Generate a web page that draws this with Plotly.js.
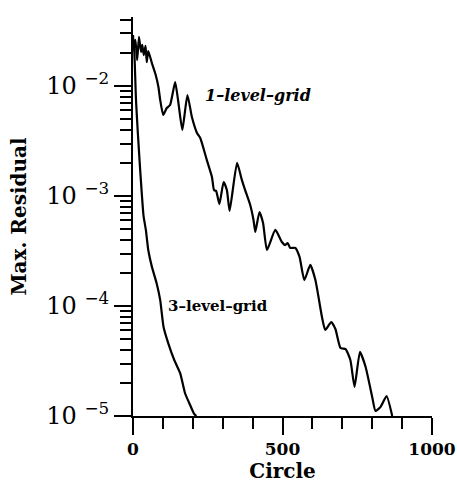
<!DOCTYPE html>
<html>
<head>
<meta charset="utf-8">
<script src="https://cdn.plot.ly/plotly-3.0.1.min.js"></script>
<style>html,body{margin:0;padding:0;background:#fff;}#chart{width:457px;height:485px;}</style>
</head>
<body>
<div id="chart"></div>
<script>
// 1-level-grid series
const circle1 = [0,3,8,14,20,27,31,36,42,46,51,63,76,85,91,101,113,124,141,152,165,182,197,214,225,247,264,271,278,289,303,314,323,348,364,375,392,403,409,423,435,448,476,498,509,517,526,543,557,573,593,610,632,643,663,677,694,711,727,741,759,778,800,811,828,848,867];
const resid1 = [0.0291,0.0222,0.0262,0.0172,0.0279,0.0204,0.0236,0.0191,0.0231,0.0165,0.0208,0.0162,0.0126,0.0098,0.00746,0.00545,0.00631,0.00671,0.01087,0.0070,0.00398,0.00828,0.00522,0.00374,0.00337,0.00212,0.00149,0.00113,0.00111,0.000845,0.00134,0.00113,0.000731,0.00200,0.0014,0.00113,0.000828,0.000605,0.000471,0.000715,0.000568,0.000323,0.000491,0.000382,0.000358,0.000374,0.000337,0.000337,0.000279,0.000172,0.000236,0.000172,0.0000794,0.0000605,0.0000715,0.0000618,0.0000415,0.0000406,0.0000323,0.0000184,0.0000382,0.0000279,0.0000149,0.0000111,0.0000121,0.0000152,0.0000100];
// 3-level-grid series
const circle3 = [0,4,10,16,24,35,43,51,63,79,91,102,118,138,158,174,191,205,212];
const resid3 = [0.0251,0.0212,0.00746,0.00382,0.00172,0.000668,0.000491,0.000323,0.000228,0.000161,0.000113,0.0000648,0.0000458,0.0000323,0.0000244,0.0000161,0.0000126,0.0000104,0.0000100];
// tick labels
const xTickVals = [0,500,1000];
const xTickText = ['0','500','1000'];
const xMinorVals = [100,200,300,400,600,700,800,900];
const yTickVals = [1e-5,1e-4,1e-3,1e-2];
const yTickText = ['10\u00a0<sup>\u22125</sup>','10\u00a0<sup>\u22124</sup>','10\u00a0<sup>\u22123</sup>','10\u00a0<sup>\u22122</sup>'];
const yMinorVals = [];
[1e-5,1e-4,1e-3,1e-2].forEach(d => { for (let k = 2; k <= 9; k++) yMinorVals.push(k*d); });

const serif = 'DejaVu Serif';
const traces = [
  {x: circle1, y: resid1, type: 'scatter', mode: 'lines', line: {color: '#000', width: 2.2, shape: 'spline', smoothing: 0.5}, showlegend: false},
  {x: circle3, y: resid3, type: 'scatter', mode: 'lines', line: {color: '#000', width: 2.2, shape: 'spline', smoothing: 0.5}, showlegend: false}
];
const layout = {
  width: 457, height: 485,
  margin: {l: 133, r: 25, t: 17, b: 69, pad: 0},
  paper_bgcolor: '#fff', plot_bgcolor: '#fff',
  showlegend: false,
  xaxis: {
    range: [0, 1000], showgrid: false, zeroline: false,
    showline: true, linecolor: '#000', linewidth: 2,
    ticks: 'outside', tickvals: xTickVals, ticktext: xTickText,
    ticklen: 17, tickwidth: 2, tickcolor: '#000',
    minor: {tickvals: xMinorVals, ticks: 'outside', ticklen: 11, tickwidth: 2, tickcolor: '#000'},
    tickfont: {family: serif, size: 17, color: '#000', weight: 'bold'},
    title: {text: 'Circle', font: {family: serif, size: 20, color: '#000', weight: 'bold'}, standoff: 1}
  },
  yaxis: {
    type: 'log', range: [-5, -1.373], showgrid: false, zeroline: false,
    showline: true, linecolor: '#000', linewidth: 2,
    ticks: 'outside', tickvals: yTickVals, ticktext: yTickText,
    ticklen: 17, tickwidth: 2, tickcolor: '#000',
    minor: {tickvals: yMinorVals, ticks: 'outside', ticklen: 11, tickwidth: 2, tickcolor: '#000'},
    tickfont: {family: serif, size: 24, color: '#000'},
    title: {text: 'Max. Residual', font: {family: serif, size: 20, color: '#000', weight: 'bold'}, standoff: 14}
  },
  annotations: [
    {x: 419, y: -2.082, xref: 'x', yref: 'y', text: '<i>1\u2013level\u2013grid</i>', showarrow: false,
     xanchor: 'center', yanchor: 'middle', font: {family: serif, size: 16, color: '#000', weight: 'bold'}},
    {x: 285, y: -4.0, xref: 'x', yref: 'y', text: '3\u2013level\u2013grid', showarrow: false,
     xanchor: 'center', yanchor: 'middle', font: {family: serif, size: 15, color: '#000', weight: 'bold'}}
  ]
};
Plotly.newPlot('chart', traces, layout, {staticPlot: true, displayModeBar: false});
</script>
</body>
</html>
